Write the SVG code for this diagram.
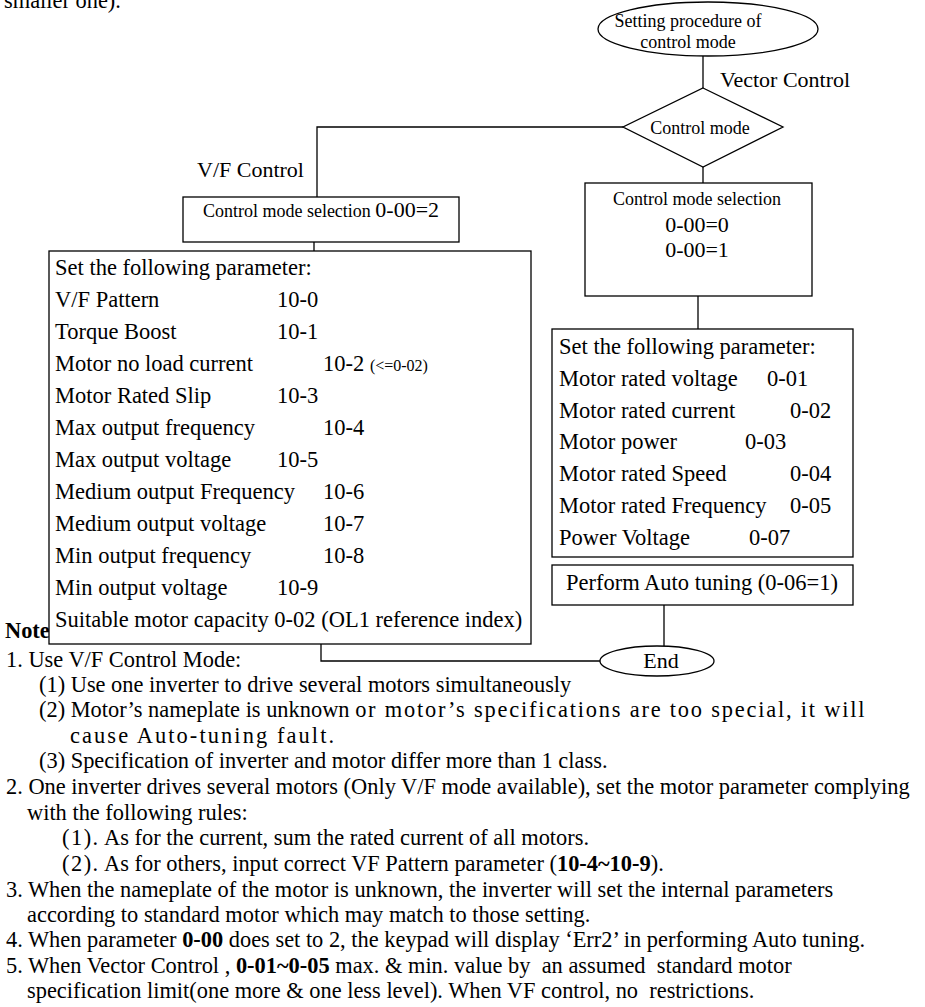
<svg xmlns="http://www.w3.org/2000/svg" width="925" height="1007" viewBox="0 0 925 1007">
<style>
text{font-family:"Liberation Serif","Times New Roman",serif;fill:#000}
.s18{font-size:18px}
.s22{font-size:22px}
.b{font-size:22.5px}
.n{font-size:22.4px}
.shape{fill:#fff;stroke:#000;stroke-width:1.3}
.conn{fill:none;stroke:#000;stroke-width:1.3}
.bold{font-weight:bold}
.mid{text-anchor:middle}
</style>
<rect width="925" height="1007" fill="#fff"/>
<text class="n" x="4" y="8">smaller one).</text>

<g id="connectors">
<line class="conn" x1="703" y1="56" x2="703" y2="88"/>
<polyline class="conn" points="623,127 317,127 317,197"/>
<line class="conn" x1="703" y1="167" x2="703" y2="183"/>
<line class="conn" x1="314" y1="242" x2="314" y2="251"/>
<line class="conn" x1="698" y1="296" x2="698" y2="329"/>
<line class="conn" x1="664" y1="605" x2="664" y2="646"/>
<polyline class="conn" points="321,644 321,661 600,661"/>
</g>

<g id="start">
<ellipse class="shape" cx="708" cy="29" rx="110" ry="27"/>
<text class="s18 mid" x="688" y="27">Setting procedure of</text>
<text class="s18 mid" x="688" y="48">control mode</text>
</g>

<text id="label-vector" class="s22" x="720" y="87">Vector Control</text>
<text id="label-vf" class="s22" x="197" y="177">V/F Control</text>

<g id="decision">
<polygon class="shape" points="703,88 783,127 703,167 623,127"/>
<text class="s18 mid" x="700" y="134">Control mode</text>
</g>

<g id="vf-select">
<rect class="shape" x="183" y="197" width="276" height="45"/>
<text x="321" y="217" class="mid"><tspan class="s18">Control mode selection </tspan><tspan class="s22">0-00=2</tspan></text>
</g>

<g id="vector-select">
<rect class="shape" x="585" y="183" width="227" height="113"/>
<text class="s18 mid" x="697" y="205">Control mode selection</text>
<text class="s22 mid" x="697" y="232">0-00=0</text>
<text class="s22 mid" x="697" y="257">0-00=1</text>
</g>

<text id="note-title" class="n bold" x="5" y="638">Note</text>

<g id="vf-params">
<rect class="shape" x="49" y="251" width="482" height="393"/>
<text class="b" x="55" y="275">Set the following parameter:</text>
<text class="b" x="55" y="307">V/F Pattern</text><text class="b" x="277" y="307">10-0</text>
<text class="b" x="55" y="339">Torque Boost</text><text class="b" x="277" y="339">10-1</text>
<text class="b" x="55" y="371">Motor no load current</text><text class="b" x="323" y="371">10-2 <tspan style="font-size:16px">(&lt;=0-02)</tspan></text>
<text class="b" x="55" y="403">Motor Rated Slip</text><text class="b" x="277" y="403">10-3</text>
<text class="b" x="55" y="435">Max output frequency</text><text class="b" x="323" y="435">10-4</text>
<text class="b" x="55" y="467">Max output voltage</text><text class="b" x="277" y="467">10-5</text>
<text class="b" x="55" y="499">Medium output Frequency</text><text class="b" x="323" y="499">10-6</text>
<text class="b" x="55" y="531">Medium output voltage</text><text class="b" x="323" y="531">10-7</text>
<text class="b" x="55" y="563">Min output frequency</text><text class="b" x="323" y="563">10-8</text>
<text class="b" x="55" y="595">Min output voltage</text><text class="b" x="277" y="595">10-9</text>
<text class="b" x="55" y="627">Suitable motor capacity 0-02 (OL1 reference index)</text>
</g>

<g id="vector-params">
<rect class="shape" x="552" y="329" width="301" height="228"/>
<text class="b" x="559" y="354">Set the following parameter:</text>
<text class="b" x="559" y="386">Motor rated voltage</text><text class="b" x="767" y="386">0-01</text>
<text class="b" x="559" y="418">Motor rated current</text><text class="b" x="790" y="418">0-02</text>
<text class="b" x="559" y="449">Motor power</text><text class="b" x="745" y="449">0-03</text>
<text class="b" x="559" y="481">Motor rated Speed</text><text class="b" x="790" y="481">0-04</text>
<text class="b" x="559" y="513">Motor rated Frequency</text><text class="b" x="790" y="513">0-05</text>
<text class="b" x="559" y="545">Power Voltage</text><text class="b" x="749" y="545">0-07</text>
</g>

<g id="autotune">
<rect class="shape" x="552" y="565" width="301" height="40"/>
<text class="b mid" x="702" y="590">Perform Auto tuning (0-06=1)</text>
</g>

<g id="end">
<ellipse class="shape" cx="657" cy="661" rx="57" ry="15"/>
<text class="s22 mid" x="661" y="668">End</text>
</g>

<g id="notes" class="n">
<text class="n" x="6" y="667">1. Use V/F Control Mode:</text>
<text class="n" x="39" y="692">(1) Use one inverter to drive several motors simultaneously</text>
<text class="n" x="39" y="717">(2) Motor’s nameplate is unknown <tspan style="letter-spacing:1.8px">or motor’s specifications are too special, it will</tspan></text>
<text class="n" x="70" y="743" style="letter-spacing:2.1px">cause Auto-tuning fault.</text>
<text class="n" x="39" y="768">(3) Specification of inverter and motor differ more than 1 class.</text>
<text class="n" x="6" y="794">2. One inverter drives several motors (Only V/F mode available), set the motor parameter complying</text>
<text class="n" x="27" y="820">with the following rules:</text>
<text class="n" x="62" y="845"><tspan style="letter-spacing:1.5px">(1).</tspan> As for the current, sum the rated current of all motors.</text>
<text class="n" x="62" y="871"><tspan style="letter-spacing:1.5px">(2).</tspan> As for others, input correct VF Pattern parameter (<tspan class="bold">10-4~10-9</tspan>).</text>
<text class="n" x="6" y="897">3. When the nameplate of the motor is unknown, the inverter will set the internal parameters</text>
<text class="n" x="27" y="922">according to standard motor which may match to those setting.</text>
<text class="n" x="6" y="947">4. When parameter <tspan class="bold">0-00</tspan> does set to 2, the keypad will display ‘Err2’ in performing Auto tuning.</text>
<text class="n" x="6" y="973" xml:space="preserve">5. When Vector Control , <tspan class="bold">0-01~0-05</tspan> max. &amp; min. value by  an assumed  standard motor</text>
<text class="n" x="27" y="998" xml:space="preserve">specification limit(one more &amp; one less level). When VF control, no  restrictions.</text>
</g>
</svg>
